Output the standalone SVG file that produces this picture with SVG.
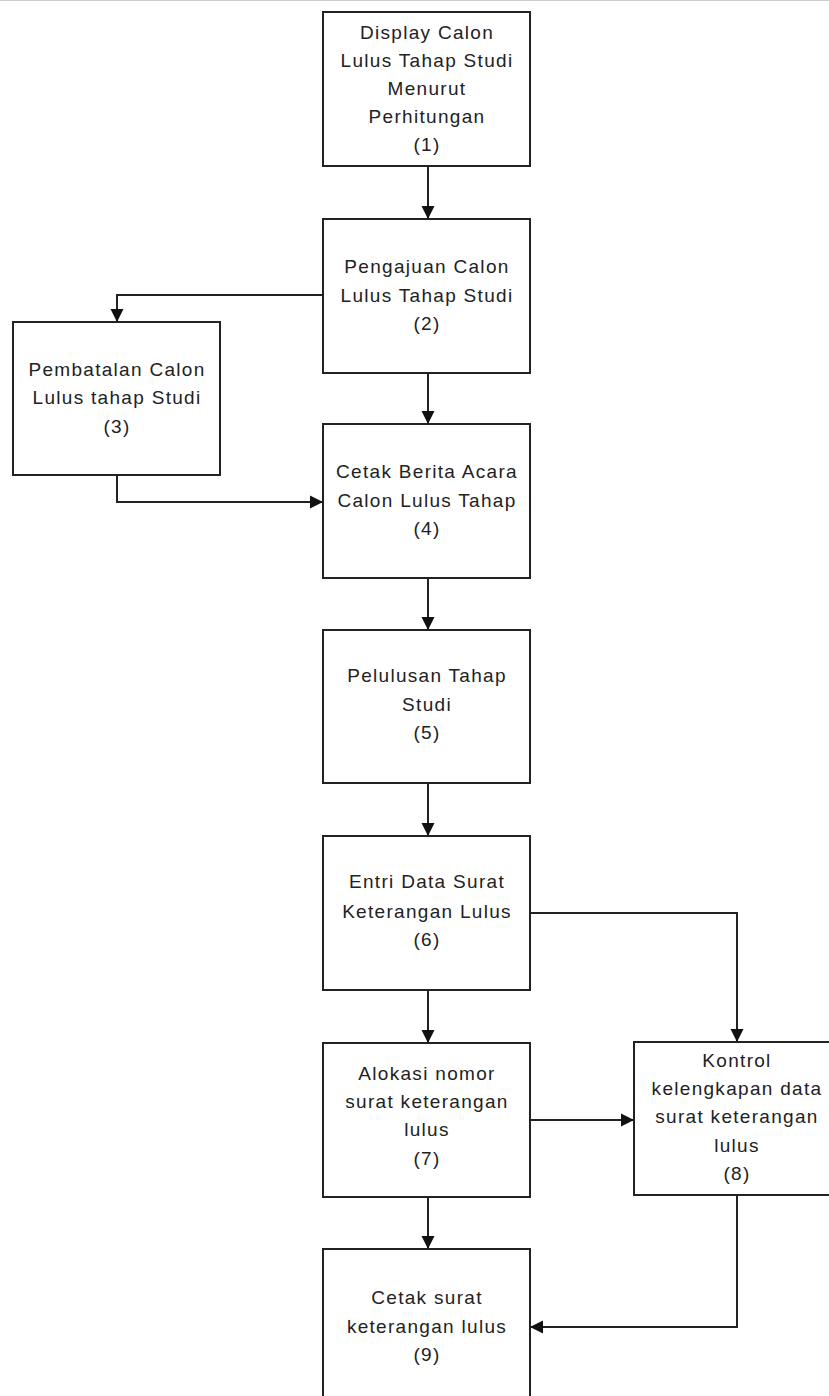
<svg xmlns="http://www.w3.org/2000/svg" width="829" height="1396" viewBox="0 0 829 1396">
<style>
.box{fill:#fff;stroke:#222;stroke-width:2}
.t{font-family:"Liberation Sans",Arial,sans-serif;font-size:19px;letter-spacing:1.3px;fill:#222;text-anchor:middle}
.c{fill:none;stroke:#222;stroke-width:2}
</style>
<defs>
<marker id="ah" viewBox="0 0 13 14" refX="13" refY="7" markerWidth="13" markerHeight="14" markerUnits="userSpaceOnUse" orient="auto">
<path d="M0,0.5 L13,7 L0,13.5 Z" fill="#111"/>
</marker>
</defs>
<rect width="829" height="1396" fill="#fff"/>
<line x1="0" y1="0.5" x2="829" y2="0.5" stroke="#ccc" stroke-width="1"/>
<g id="connectors">
<path class="c" d="M428,166 V219" marker-end="url(#ah)"/>
<path class="c" d="M323,295 H117 V322" marker-end="url(#ah)"/>
<path class="c" d="M428,373 V424" marker-end="url(#ah)"/>
<path class="c" d="M117,475 V502 H323" marker-end="url(#ah)"/>
<path class="c" d="M428,578 V630" marker-end="url(#ah)"/>
<path class="c" d="M428,783 V836" marker-end="url(#ah)"/>
<path class="c" d="M428,990 V1043" marker-end="url(#ah)"/>
<path class="c" d="M530,913 H737 V1042" marker-end="url(#ah)"/>
<path class="c" d="M530,1120 H634" marker-end="url(#ah)"/>
<path class="c" d="M428,1197 V1249" marker-end="url(#ah)"/>
<path class="c" d="M737,1195 V1327 H530" marker-end="url(#ah)"/>
</g>
<g id="n1">
<rect class="box" x="323" y="12" width="207" height="154"/>
<text class="t" x="427" y="39">Display Calon</text>
<text class="t" x="427" y="67">Lulus Tahap Studi</text>
<text class="t" x="427" y="95">Menurut</text>
<text class="t" x="427" y="123">Perhitungan</text>
<text class="t" x="427" y="151">(1)</text>
</g>
<g id="n2">
<rect class="box" x="323" y="219" width="207" height="154"/>
<text class="t" x="427" y="273">Pengajuan Calon</text>
<text class="t" x="427" y="302">Lulus Tahap Studi</text>
<text class="t" x="427" y="330">(2)</text>
</g>
<g id="n3">
<rect class="box" x="13" y="322" width="207" height="153"/>
<text class="t" x="117" y="376">Pembatalan Calon</text>
<text class="t" x="117" y="404">Lulus tahap Studi</text>
<text class="t" x="117" y="433">(3)</text>
</g>
<g id="n4">
<rect class="box" x="323" y="424" width="207" height="154"/>
<text class="t" x="427" y="478">Cetak Berita Acara</text>
<text class="t" x="427" y="507">Calon Lulus Tahap</text>
<text class="t" x="427" y="535">(4)</text>
</g>
<g id="n5">
<rect class="box" x="323" y="630" width="207" height="153"/>
<text class="t" x="427" y="682">Pelulusan Tahap</text>
<text class="t" x="427" y="711">Studi</text>
<text class="t" x="427" y="739">(5)</text>
</g>
<g id="n6">
<rect class="box" x="323" y="836" width="207" height="154"/>
<text class="t" x="427" y="888">Entri Data Surat</text>
<text class="t" x="427" y="918">Keterangan Lulus</text>
<text class="t" x="427" y="946">(6)</text>
</g>
<g id="n7">
<rect class="box" x="323" y="1043" width="207" height="154"/>
<text class="t" x="427" y="1080">Alokasi nomor</text>
<text class="t" x="427" y="1108">surat keterangan</text>
<text class="t" x="427" y="1136">lulus</text>
<text class="t" x="427" y="1165">(7)</text>
</g>
<g id="n8">
<rect class="box" x="634" y="1042" width="207" height="153"/>
<text class="t" x="737" y="1067">Kontrol</text>
<text class="t" x="737" y="1095">kelengkapan data</text>
<text class="t" x="737" y="1123">surat keterangan</text>
<text class="t" x="737" y="1152">lulus</text>
<text class="t" x="737" y="1180">(8)</text>
</g>
<g id="n9">
<rect class="box" x="323" y="1249" width="207" height="160"/>
<text class="t" x="427" y="1304">Cetak surat</text>
<text class="t" x="427" y="1333">keterangan lulus</text>
<text class="t" x="427" y="1361">(9)</text>
</g>
</svg>
